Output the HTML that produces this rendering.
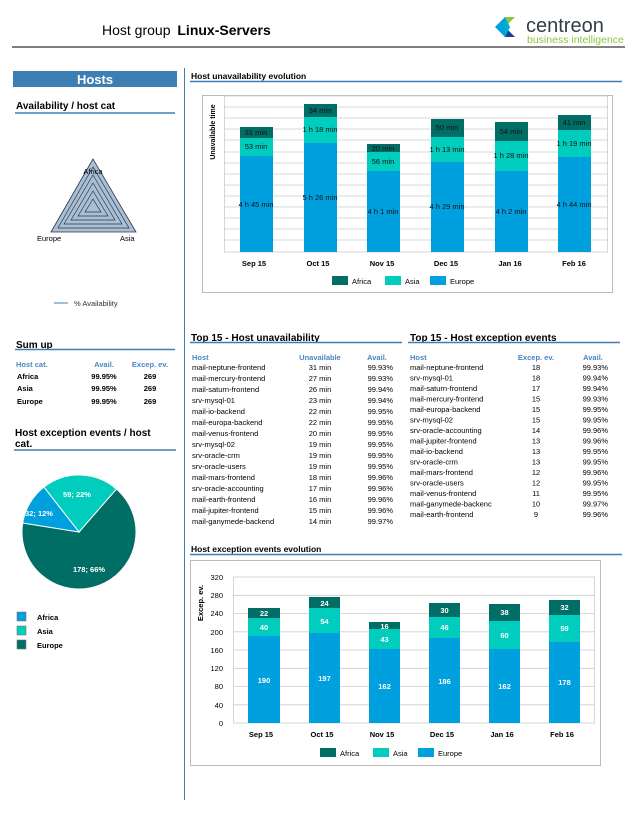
<!DOCTYPE html>
<html><head><meta charset="utf-8"><style>
body{margin:0;background:#fff}
svg{display:block;font-family:"Liberation Sans",sans-serif}
.b{font-weight:bold}
</style></head><body>
<svg width="634" height="815" viewBox="0 0 634 815" xmlns="http://www.w3.org/2000/svg">
<!-- header -->
<text x="102" y="35" font-size="14" fill="#000">Host group <tspan font-weight="bold" dx="3">Linux-Servers</tspan></text>
<path d="M505 17 L515 17 L505 27 Z" fill="#8cc63f"/>
<path d="M505 17 L505 37 L495 27 Z" fill="#00a0df"/>
<path d="M505 27 L515 37 L505 37 Z" fill="#1c3f95"/>
<path d="M505 17 L505 37 L510 27 Z" fill="#00b0c8"/>
<text x="526" y="32" font-size="20" fill="#333d47">centreon</text>
<text x="527" y="43" font-size="10.5" fill="#8cc63f">business intelligence</text>
<line x1="12" y1="47" x2="625" y2="47" stroke="#000" stroke-width="1"/>
<line x1="184.5" y1="68" x2="184.5" y2="800" stroke="#3d7eb3" stroke-width="1"/>

<!-- left column -->
<rect x="13" y="71" width="164" height="16" fill="#3d7eb3"/>
<text x="95" y="84" font-size="13" font-weight="bold" fill="#fff" text-anchor="middle">Hosts</text>
<text x="16" y="109" font-size="10" class="b">Availability / host cat</text>
<line x1="15" y1="113" x2="175" y2="113" stroke="#3d7eb3" stroke-width="1.5"/>
<polygon points="93,159 51,232 136,232" fill="#a7c0d6" stroke="#334" stroke-width="0.8"/>
<g fill="none" stroke="#334" stroke-width="0.7">
<polygon points="93,167 58,228 129,228"/>
<polygon points="93,175 64,224 122,224"/>
<polygon points="93,183 71,220 115,220"/>
<polygon points="93,191 78,216 108,216"/>
<polygon points="93,199 85,212 101,212"/>
</g>
<text x="93" y="174" font-size="7.5" text-anchor="middle">Africa</text>
<text x="37" y="241" font-size="7.5">Europe</text>
<text x="120" y="241" font-size="7.5">Asia</text>
<line x1="54" y1="303" x2="68" y2="303" stroke="#3d7eb3" stroke-width="1"/>
<text x="74" y="306" font-size="7.5" fill="#333">% Availability</text>

<text x="16" y="348" font-size="10" class="b">Sum up</text>
<line x1="15" y1="349.5" x2="175" y2="349.5" stroke="#3d7eb3" stroke-width="1.5"/>
<g font-size="7.5" font-weight="bold">
<text x="16" y="367" fill="#4a86c5">Host cat.</text><text x="104" y="367" fill="#4a86c5" text-anchor="middle">Avail.</text><text x="150" y="367" fill="#4a86c5" text-anchor="middle">Excep. ev.</text>
<text x="17" y="379">Africa</text><text x="104" y="379" text-anchor="middle">99.95%</text><text x="150" y="379" text-anchor="middle">269</text>
<text x="17" y="391">Asia</text><text x="104" y="391" text-anchor="middle">99.95%</text><text x="150" y="391" text-anchor="middle">269</text>
<text x="17" y="404">Europe</text><text x="104" y="404" text-anchor="middle">99.95%</text><text x="150" y="404" text-anchor="middle">269</text>
</g>
<text x="15" y="436" font-size="10" class="b">Host exception events / host</text>
<text x="15" y="447" font-size="10" class="b">cat.</text>
<line x1="14" y1="450" x2="176" y2="450" stroke="#3d7eb3" stroke-width="1.5"/>
<g stroke="#fff" stroke-width="1">
<path d="M79,532 L116.4,489 A57,57 0 1 1 22.7,523 Z" fill="#006e64"/>
<path d="M79,532 L43.9,487.1 A57,57 0 0 1 116.4,489 Z" fill="#00cdbd"/>
<path d="M79,532 L22.7,523 A57,57 0 0 1 43.9,487.1 Z" fill="#00a0df"/>
</g>
<g font-size="7.5" font-weight="bold" fill="#fff" text-anchor="middle">
<text x="77" y="497">59; 22%</text><text x="39" y="516">32; 12%</text><text x="89" y="572">178; 66%</text>
</g>
<g stroke="#777" stroke-width="0.6">
<rect x="17" y="612" width="9" height="9" fill="#00a0df"/>
<rect x="17" y="626" width="9" height="9" fill="#00cdbd"/>
<rect x="17" y="640" width="9" height="9" fill="#006e64"/>
</g>
<g font-size="7.5" font-weight="bold"><text x="37" y="620">Africa</text><text x="37" y="634">Asia</text><text x="37" y="648">Europe</text></g>

<!-- top chart -->
<text x="191" y="79" font-size="8.5" class="b">Host unavailability evolution</text>
<line x1="190" y1="81.5" x2="622" y2="81.5" stroke="#3d7eb3" stroke-width="1.5"/>
<rect x="202.5" y="95.5" width="410" height="197" fill="none" stroke="#bbb"/>
<g stroke="#ccc" stroke-width="0.8">
<rect x="224.5" y="96" width="383" height="156" fill="none"/>
<line x1="224" y1="107" x2="608" y2="107"/><line x1="224" y1="118" x2="608" y2="118"/><line x1="224" y1="129" x2="608" y2="129"/><line x1="224" y1="140" x2="608" y2="140"/><line x1="224" y1="152" x2="608" y2="152"/><line x1="224" y1="163" x2="608" y2="163"/><line x1="224" y1="174" x2="608" y2="174"/><line x1="224" y1="185" x2="608" y2="185"/><line x1="224" y1="196" x2="608" y2="196"/><line x1="224" y1="207" x2="608" y2="207"/><line x1="224" y1="218" x2="608" y2="218"/><line x1="224" y1="229" x2="608" y2="229"/><line x1="224" y1="240" x2="608" y2="240"/>
</g>
<text transform="translate(215,132) rotate(-90)" font-size="7" font-weight="bold" text-anchor="middle">Unavailable time</text>
<g>
<rect x="240" y="127" width="33" height="11" fill="#006e64"/><rect x="240" y="138" width="33" height="18" fill="#00cdbd"/><rect x="240" y="156" width="33" height="96" fill="#00a0df"/>
<rect x="304" y="104" width="33" height="13" fill="#006e64"/><rect x="304" y="117" width="33" height="26" fill="#00cdbd"/><rect x="304" y="143" width="33" height="109" fill="#00a0df"/>
<rect x="367" y="144" width="33" height="8" fill="#006e64"/><rect x="367" y="152" width="33" height="19" fill="#00cdbd"/><rect x="367" y="171" width="33" height="81" fill="#00a0df"/>
<rect x="431" y="119" width="33" height="18" fill="#006e64"/><rect x="431" y="137" width="33" height="25" fill="#00cdbd"/><rect x="431" y="162" width="33" height="90" fill="#00a0df"/>
<rect x="495" y="122" width="33" height="19" fill="#006e64"/><rect x="495" y="141" width="33" height="30" fill="#00cdbd"/><rect x="495" y="171" width="33" height="81" fill="#00a0df"/>
<rect x="558" y="115" width="33" height="15" fill="#006e64"/><rect x="558" y="130" width="33" height="27" fill="#00cdbd"/><rect x="558" y="157" width="33" height="95" fill="#00a0df"/>
</g>
<g font-size="7.5" fill="#111" text-anchor="middle">
<text x="256" y="135">31 min</text><text x="256" y="149">53 min</text><text x="256" y="207">4 h 45 min</text>
<text x="320" y="113">34 min</text><text x="320" y="132">1 h 18 min</text><text x="320" y="200">5 h 26 min</text>
<text x="383" y="151">20 min</text><text x="383" y="164">56 min</text><text x="383" y="214">4 h 1 min</text>
<text x="447" y="130">50 min</text><text x="447" y="152">1 h 13 min</text><text x="447" y="209">4 h 29 min</text>
<text x="511" y="134">54 min</text><text x="511" y="158">1 h 28 min</text><text x="511" y="214">4 h 2 min</text>
<text x="574" y="125">41 min</text><text x="574" y="146">1 h 19 min</text><text x="574" y="207">4 h 44 min</text>
</g>
<g font-size="7.5" font-weight="bold" text-anchor="middle">
<text x="254" y="266">Sep 15</text><text x="318" y="266">Oct 15</text><text x="382" y="266">Nov 15</text><text x="446" y="266">Dec 15</text><text x="510" y="266">Jan 16</text><text x="574" y="266">Feb 16</text>
</g>
<rect x="332" y="276" width="16" height="9" fill="#006e64"/><text x="352" y="284" font-size="7.5">Africa</text>
<rect x="385" y="276" width="16" height="9" fill="#00cdbd"/><text x="405" y="284" font-size="7.5">Asia</text>
<rect x="430" y="276" width="16" height="9" fill="#00a0df"/><text x="450" y="284" font-size="7.5">Europe</text>

<!-- tables -->
<text x="191" y="341" font-size="10" class="b">Top 15 - Host unavailability</text>
<line x1="190" y1="342.5" x2="402" y2="342.5" stroke="#3d7eb3" stroke-width="1.5"/>
<text x="410" y="341" font-size="10" class="b">Top 15 - Host exception events</text>
<line x1="408" y1="342.5" x2="620" y2="342.5" stroke="#3d7eb3" stroke-width="1.5"/>
<g font-size="7.5" font-weight="bold" fill="#4a86c5">
<text x="192" y="360">Host</text><text x="320" y="360" text-anchor="middle">Unavailable</text><text x="377" y="360" text-anchor="middle">Avail.</text>
<text x="410" y="360">Host</text><text x="536" y="360" text-anchor="middle">Excep. ev.</text><text x="593" y="360" text-anchor="middle">Avail.</text>
</g>
<g font-size="7.5" fill="#000">
<text x="192" y="370">mail-neptune-frontend</text><text x="192" y="381">mail-mercury-frontend</text><text x="192" y="392">mail-saturn-frontend</text><text x="192" y="403">srv-mysql-01</text><text x="192" y="414">mail-io-backend</text><text x="192" y="425">mail-europa-backend</text><text x="192" y="436">mail-venus-frontend</text><text x="192" y="447">srv-mysql-02</text><text x="192" y="458">srv-oracle-crm</text><text x="192" y="469">srv-oracle-users</text><text x="192" y="480">mail-mars-frontend</text><text x="192" y="491">srv-oracle-accounting</text><text x="192" y="502">mail-earth-frontend</text><text x="192" y="513">mail-jupiter-frontend</text><text x="192" y="524">mail-ganymede-backend</text>
</g>
<g font-size="7.5" text-anchor="middle">
<text x="320" y="370">31 min</text><text x="320" y="381">27 min</text><text x="320" y="392">26 min</text><text x="320" y="403">23 min</text><text x="320" y="414">22 min</text><text x="320" y="425">22 min</text><text x="320" y="436">20 min</text><text x="320" y="447">19 min</text><text x="320" y="458">19 min</text><text x="320" y="469">19 min</text><text x="320" y="480">18 min</text><text x="320" y="491">17 min</text><text x="320" y="502">16 min</text><text x="320" y="513">15 min</text><text x="320" y="524">14 min</text>
</g>
<g font-size="7.5" text-anchor="end">
<text x="393" y="370">99.93%</text><text x="393" y="381">99.93%</text><text x="393" y="392">99.94%</text><text x="393" y="403">99.94%</text><text x="393" y="414">99.95%</text><text x="393" y="425">99.95%</text><text x="393" y="436">99.95%</text><text x="393" y="447">99.95%</text><text x="393" y="458">99.95%</text><text x="393" y="469">99.95%</text><text x="393" y="480">99.96%</text><text x="393" y="491">99.96%</text><text x="393" y="502">99.96%</text><text x="393" y="513">99.96%</text><text x="393" y="524">99.97%</text>
</g>
<g font-size="7.5">
<text x="410" y="370">mail-neptune-frontend</text><text x="410" y="380.5">srv-mysql-01</text><text x="410" y="391">mail-saturn-frontend</text><text x="410" y="401.5">mail-mercury-frontend</text><text x="410" y="412">mail-europa-backend</text><text x="410" y="422.5">srv-mysql-02</text><text x="410" y="433">srv-oracle-accounting</text><text x="410" y="443.5">mail-jupiter-frontend</text><text x="410" y="454">mail-io-backend</text><text x="410" y="464.5">srv-oracle-crm</text><text x="410" y="475">mail-mars-frontend</text><text x="410" y="485.5">srv-oracle-users</text><text x="410" y="496">mail-venus-frontend</text><text x="410" y="506.5">mail-ganymede-backenc</text><text x="410" y="517">mail-earth-frontend</text>
</g>
<g font-size="7.5" text-anchor="middle">
<text x="536" y="370">18</text><text x="536" y="380.5">18</text><text x="536" y="391">17</text><text x="536" y="401.5">15</text><text x="536" y="412">15</text><text x="536" y="422.5">15</text><text x="536" y="433">14</text><text x="536" y="443.5">13</text><text x="536" y="454">13</text><text x="536" y="464.5">13</text><text x="536" y="475">12</text><text x="536" y="485.5">12</text><text x="536" y="496">11</text><text x="536" y="506.5">10</text><text x="536" y="517">9</text>
</g>
<g font-size="7.5" text-anchor="end">
<text x="608" y="370">99.93%</text><text x="608" y="380.5">99.94%</text><text x="608" y="391">99.94%</text><text x="608" y="401.5">99.93%</text><text x="608" y="412">99.95%</text><text x="608" y="422.5">99.95%</text><text x="608" y="433">99.96%</text><text x="608" y="443.5">99.96%</text><text x="608" y="454">99.95%</text><text x="608" y="464.5">99.95%</text><text x="608" y="475">99.96%</text><text x="608" y="485.5">99.95%</text><text x="608" y="496">99.95%</text><text x="608" y="506.5">99.97%</text><text x="608" y="517">99.96%</text>
</g>

<!-- bottom chart -->
<text x="191" y="552" font-size="8.5" class="b">Host exception events evolution</text>
<line x1="190" y1="554.5" x2="622" y2="554.5" stroke="#3d7eb3" stroke-width="1.5"/>
<rect x="190.5" y="560.5" width="410" height="205" fill="none" stroke="#bbb"/>
<g stroke="#ccc" stroke-width="0.8">
<rect x="233.5" y="577" width="361" height="146" fill="none"/>
<line x1="233" y1="595.3" x2="594" y2="595.3"/><line x1="233" y1="613.5" x2="594" y2="613.5"/><line x1="233" y1="631.8" x2="594" y2="631.8"/><line x1="233" y1="650" x2="594" y2="650"/><line x1="233" y1="668.3" x2="594" y2="668.3"/><line x1="233" y1="686.5" x2="594" y2="686.5"/><line x1="233" y1="704.8" x2="594" y2="704.8"/>
</g>
<g font-size="7.5" text-anchor="end">
<text x="223" y="580">320</text><text x="223" y="598">280</text><text x="223" y="616">240</text><text x="223" y="635">200</text><text x="223" y="653">160</text><text x="223" y="671">120</text><text x="223" y="689">80</text><text x="223" y="708">40</text><text x="223" y="726">0</text>
</g>
<text transform="translate(203,603) rotate(-90)" font-size="7.5" font-weight="bold" text-anchor="middle">Excep. ev.</text>
<g>
<rect x="248" y="608" width="32" height="10" fill="#006e64"/><rect x="248" y="618" width="32" height="18" fill="#00cdbd"/><rect x="248" y="636" width="32" height="87" fill="#00a0df"/>
<rect x="309" y="597" width="31" height="11" fill="#006e64"/><rect x="309" y="608" width="31" height="25" fill="#00cdbd"/><rect x="309" y="633" width="31" height="90" fill="#00a0df"/>
<rect x="369" y="622" width="31" height="7" fill="#006e64"/><rect x="369" y="629" width="31" height="20" fill="#00cdbd"/><rect x="369" y="649" width="31" height="74" fill="#00a0df"/>
<rect x="429" y="603" width="31" height="14" fill="#006e64"/><rect x="429" y="617" width="31" height="21" fill="#00cdbd"/><rect x="429" y="638" width="31" height="85" fill="#00a0df"/>
<rect x="489" y="604" width="31" height="17" fill="#006e64"/><rect x="489" y="621" width="31" height="28" fill="#00cdbd"/><rect x="489" y="649" width="31" height="74" fill="#00a0df"/>
<rect x="549" y="600" width="31" height="15" fill="#006e64"/><rect x="549" y="615" width="31" height="27" fill="#00cdbd"/><rect x="549" y="642" width="31" height="81" fill="#00a0df"/>
</g>
<g font-size="7.5" font-weight="bold" fill="#fff" text-anchor="middle">
<text x="264" y="616">22</text><text x="264" y="630">40</text><text x="264" y="683">190</text>
<text x="324.5" y="606">24</text><text x="324.5" y="624">54</text><text x="324.5" y="681">197</text>
<text x="384.5" y="629">16</text><text x="384.5" y="642">43</text><text x="384.5" y="689">162</text>
<text x="444.5" y="613">30</text><text x="444.5" y="630">46</text><text x="444.5" y="684">186</text>
<text x="504.5" y="615">38</text><text x="504.5" y="638">60</text><text x="504.5" y="689">162</text>
<text x="564.5" y="610">32</text><text x="564.5" y="631">59</text><text x="564.5" y="685">178</text>
</g>
<g font-size="7.5" font-weight="bold" text-anchor="middle">
<text x="261" y="737">Sep 15</text><text x="322" y="737">Oct 15</text><text x="382" y="737">Nov 15</text><text x="442" y="737">Dec 15</text><text x="502" y="737">Jan 16</text><text x="562" y="737">Feb 16</text>
</g>
<rect x="320" y="748" width="16" height="9" fill="#006e64"/><text x="340" y="756" font-size="7.5">Africa</text>
<rect x="373" y="748" width="16" height="9" fill="#00cdbd"/><text x="393" y="756" font-size="7.5">Asia</text>
<rect x="418" y="748" width="16" height="9" fill="#00a0df"/><text x="438" y="756" font-size="7.5">Europe</text>
</svg>
</body></html>
